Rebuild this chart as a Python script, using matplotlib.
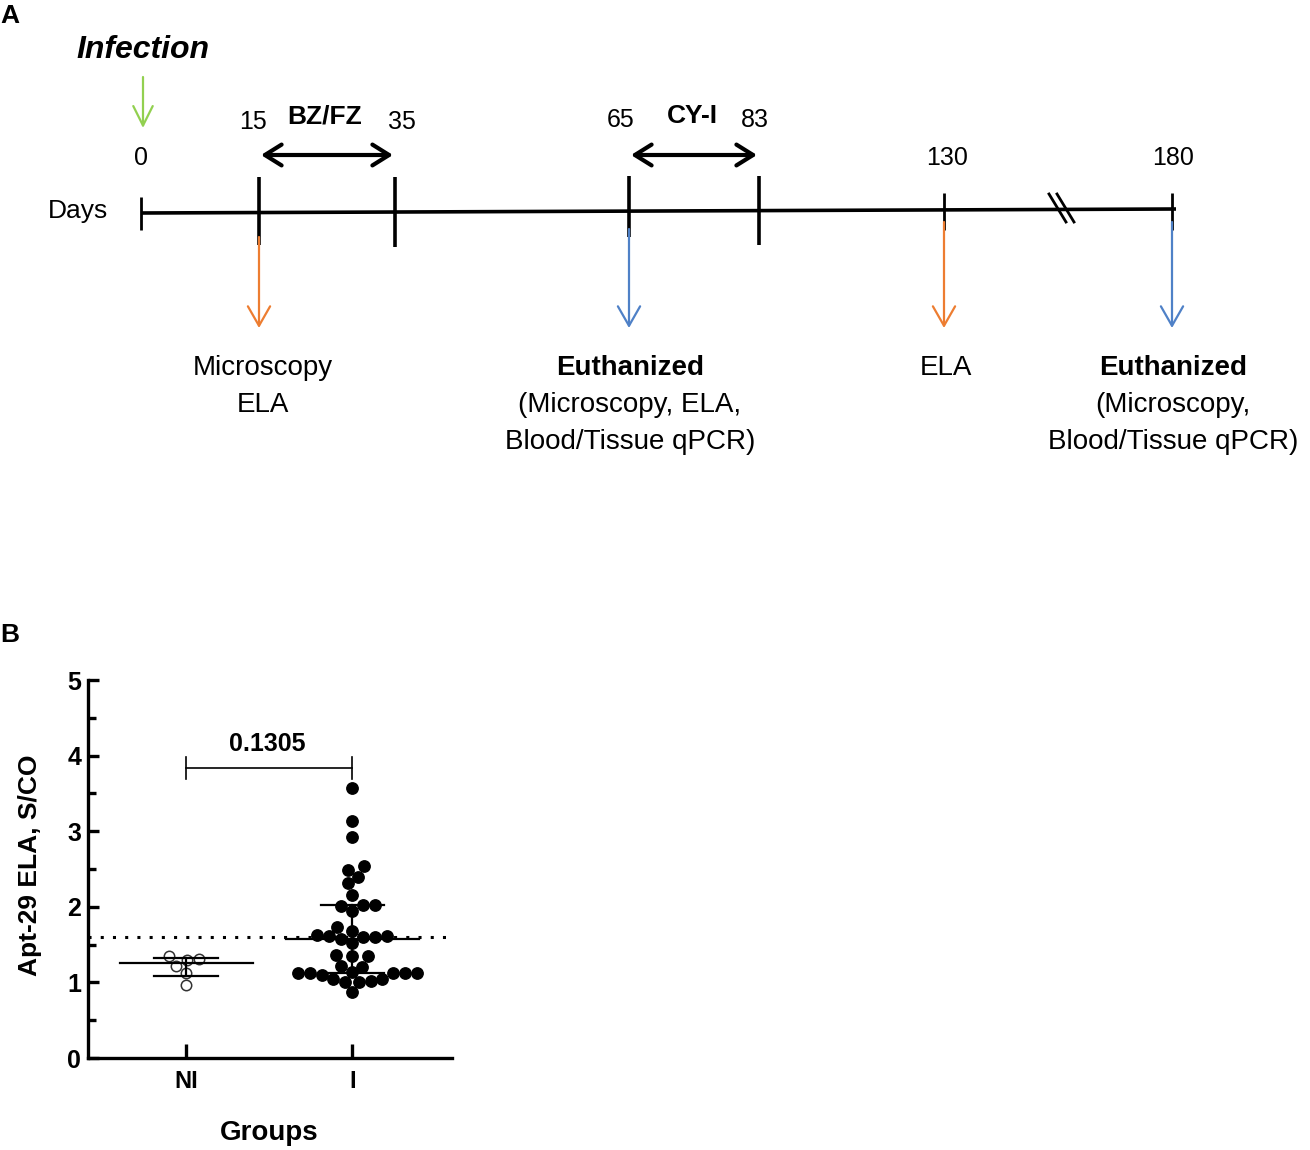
import numpy as np
import matplotlib
matplotlib.use("Agg")
import matplotlib.pyplot as plt

plt.rcParams['font.family'] = ['Liberation Sans', 'DejaVu Sans']

# ---------------- data ----------------
# Panel A: timeline (days)
days = [0, 15, 35, 65, 83, 130, 180]
treatments = ["BZ/FZ", "CY-I"]
treat_start = [15, 65]
treat_end = [35, 83]
event_days = [15, 65, 130, 180]
event_title = ["", "Euthanized", "", "Euthanized"]
event_lines = [["Microscopy", "ELA"],
               ["(Microscopy, ELA,", "Blood/Tissue qPCR)"],
               ["ELA"],
               ["(Microscopy,", "Blood/Tissue qPCR)"]]
event_colors = ["#ED7D31", "#4F81C7", "#ED7D31", "#4F81C7"]

# Panel B: Apt-29 ELA S/CO
groups = ["NI", "I"]
ni_vals = [1.29, 1.31, 1.35, 1.22, 1.13, 0.96]
i_vals = [3.57, 3.14, 2.92, 2.54, 2.49, 2.40, 2.31, 2.16,
          2.02, 2.01, 2.02, 1.95, 1.73, 1.68,
          1.60, 1.61, 1.60, 1.58, 1.62, 1.63, 1.52,
          1.35, 1.36, 1.35, 1.21, 1.22,
          1.13, 1.12, 1.13, 1.10, 1.13, 1.13, 1.14,
          1.05, 1.00, 1.02, 1.01, 1.05, 0.875]
cutoff = 1.6
p_value = "0.1305"

# ---------------- layout (pixel space for schematic) ----------------
W, H = 1310, 1150
fig = plt.figure(figsize=(W / 100, H / 100), dpi=100)
axA = fig.add_axes([0, 0, 1, 1])
axA.set_xlim(0, W)
axA.set_ylim(H, 0)
axA.axis("off")

day_x = {0: 141, 15: 259, 35: 395, 65: 629, 83: 759, 130: 944, 180: 1172}
line_y0, line_y1 = 213, 209

axA.plot([141, 1176], [line_y0, line_y1], color="black", lw=2.6, solid_capstyle="butt")

tick_span = {0: (197, 230), 15: (177, 245), 35: (177, 247), 65: (176, 237),
             83: (176, 245), 130: (193, 230), 180: (193, 230)}
label_pos = {0: (141, 158), 15: (253, 122), 35: (402, 122), 65: (621, 120),
             83: (755, 120), 130: (947, 158), 180: (1173, 158)}
for d in days:
    x = day_x[d]
    t0, t1 = tick_span[d]
    lw = 2.0 if d in (0, 130, 180) else 2.6
    axA.plot([x, x], [t0, t1], color="black", lw=lw, solid_capstyle="butt")
    lx, ly = label_pos[d]
    axA.text(lx, ly, str(d), ha="center", va="center", fontsize=18)

# break mark
for dx in (0, 8):
    axA.plot([1049 + dx, 1066 + dx], [194, 222], color="black", lw=2.0)

axA.text(78, 211, "Days", ha="center", va="center", fontsize=19)

# treatment double arrows
for name, s, e in zip(treatments, treat_start, treat_end):
    x0, x1 = day_x[s], day_x[e]
    axA.annotate("", xy=(x1 - 2, 155), xytext=(x0 + 2, 155),
                 arrowprops=dict(arrowstyle="<->,head_length=0.4,head_width=0.25",
                                 lw=3, color="black", mutation_scale=30,
                                 shrinkA=0, shrinkB=0))
    axA.text((x0 + x1) / 2 - 2, 116, name, ha="center", va="center",
             fontsize=19, fontweight="bold")

# infection
axA.text(143, 50, "Infection", ha="center", va="center", fontsize=23,
         fontweight="bold", fontstyle="italic")
axA.annotate("", xy=(143, 128), xytext=(143, 77),
             arrowprops=dict(arrowstyle="->,head_length=0.7,head_width=0.35",
                             lw=1.6, color="#92D050", mutation_scale=20,
                             shrinkA=0, shrinkB=0))

# event arrows and texts
text_x = {15: 263, 65: 630, 130: 946, 180: 1173}
for d, title, lines, col in zip(event_days, event_title, event_lines, event_colors):
    x = day_x[d]
    axA.annotate("", xy=(x, 328), xytext=(x, tick_span[d][1] - 8),
                 arrowprops=dict(arrowstyle="->,head_length=0.7,head_width=0.4",
                                 lw=1.6, color=col, mutation_scale=20,
                                 shrinkA=0, shrinkB=0))
    y = 368
    tx = text_x[d]
    if title:
        axA.text(tx, y, title, ha="center", va="center", fontsize=20, fontweight="bold")
        y += 37
    for ln in lines:
        axA.text(tx, y, ln, ha="center", va="center", fontsize=20)
        y += 37

fig.text(0 / W, 1 - 16 / H, "A", ha="left", va="center", fontsize=19, fontweight="bold")
fig.text(0 / W, 1 - 635 / H, "B", ha="left", va="center", fontsize=19, fontweight="bold")

# ---------------- panel B ----------------
left, right, bottom, top = 88, 452, 1058, 680
axB = fig.add_axes([left / W, 1 - bottom / H, (right - left) / W, (bottom - top) / H])
xlim = (-0.59, 1.6)
ylim = (0, 5)
axB.set_xlim(*xlim)
axB.set_ylim(*ylim)
ppx = (right - left) / (xlim[1] - xlim[0])
ppy = (bottom - top) / (ylim[1] - ylim[0])


def swarm(vals, diam):
    vals = np.asarray(vals, float)
    ys = vals * ppy
    order = np.argsort(ys)
    xs = np.full(len(vals), np.nan)
    placed = []
    for i in order:
        cands = [0.0]
        for j in placed:
            dy = ys[i] - ys[j]
            if abs(dy) < diam:
                dx = np.sqrt(diam ** 2 - dy ** 2)
                cands += [xs[j] + dx, xs[j] - dx]
        cands = sorted(cands, key=lambda c: (abs(c), c))
        for c in cands:
            ok = all((c - xs[j]) ** 2 + (ys[i] - ys[j]) ** 2 >= diam ** 2 - 1e-6 for j in placed)
            if ok:
                xs[i] = c
                break
        placed.append(i)
    return xs / ppx


for gi, (vals, filled) in enumerate([(ni_vals, False), (i_vals, True)]):
    off = swarm(vals, 12.0)
    if filled:
        axB.plot(gi + off, vals, "o", ms=8.2, mfc="black", mec="black", zorder=3, ls="none")
    else:
        axB.plot(gi + off, vals, "o", ms=7.5, mfc="white", mec="#333333", mew=1.1,
                 zorder=3, ls="none")
    q1, med, q3 = np.percentile(vals, [25, 50, 75], method="weibull")
    axB.plot([gi - 0.4, gi + 0.4], [med, med], color="black", lw=1.6, zorder=4)
    axB.plot([gi - 0.19, gi + 0.19], [q1, q1], color="black", lw=1.6, zorder=4)
    axB.plot([gi - 0.19, gi + 0.19], [q3, q3], color="black", lw=1.6, zorder=4)
    axB.plot([gi, gi], [q1, q3], color="black", lw=1.6, zorder=4)

axB.axhline(cutoff, color="black", lw=2.2, ls=(0, (1, 3)), dash_capstyle="butt", zorder=2)

# significance bracket
yb = 3.84
axB.plot([0, 1], [yb, yb], color="black", lw=1.2)
axB.plot([0, 0], [3.69, 3.98], color="black", lw=1.2)
axB.plot([1, 1], [3.69, 3.98], color="black", lw=1.2)
axB.text(0.49, 3.99, p_value, ha="center", va="bottom", fontsize=18, fontweight="bold")

for s in ("top", "right"):
    axB.spines[s].set_visible(False)
for s in ("left", "bottom"):
    axB.spines[s].set_linewidth(2.4)

axB.set_yticks(np.arange(0, 5.01, 1))
axB.set_yticks(np.arange(0.5, 5, 1), minor=True)
axB.set_xticks(range(len(groups)))
axB.set_xticklabels(groups)
axB.tick_params(axis="y", which="major", direction="in", length=8, width=2.4, pad=5,
                labelsize=18)
axB.tick_params(axis="y", which="minor", direction="in", length=6, width=2.4)
axB.tick_params(axis="x", which="major", direction="in", length=10, width=2.4, pad=9,
                labelsize=17)
for lab in axB.get_yticklabels() + axB.get_xticklabels():
    lab.set_fontweight("bold")

fig.text(30 / W, 1 - 865 / H, "Apt-29 ELA, S/CO", rotation=90, ha="center", va="center",
         fontsize=19, fontweight="bold")
fig.text(269 / W, 1 - 1133 / H, "Groups", ha="center", va="center",
         fontsize=20, fontweight="bold")

fig.savefig("out.png", dpi=100)
